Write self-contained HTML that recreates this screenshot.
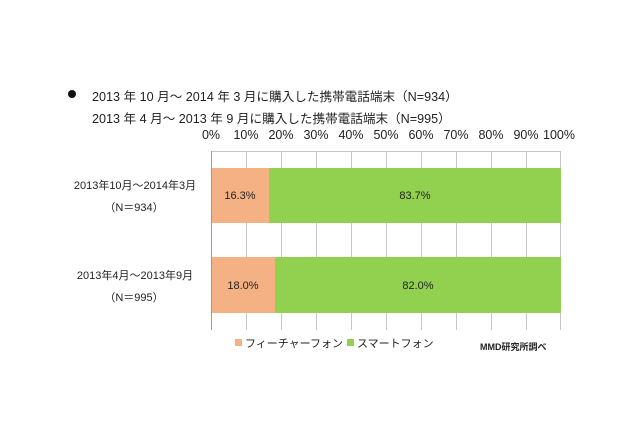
<!DOCTYPE html>
<html><head><meta charset="utf-8"><style>
body{margin:0;width:640px;height:426px;background:#fff;position:relative;font-family:"Liberation Sans","Noto Sans CJK JP",sans-serif;color:#222;overflow:hidden}
.t{position:absolute;white-space:nowrap}
</style></head><body>
<div style="position:absolute;left:68px;top:90px;width:8px;height:8px;border-radius:50%;background:#111"></div>
<div class="t" style="left:92px;top:86px;font-size:12.6px">2013 年 10 月～ 2014 年 3 月に購入した携帯電話端末（N=934）</div>
<div class="t" style="left:92px;top:108px;font-size:12.6px">2013 年 4 月～ 2013 年 9 月に購入した携帯電話端末（N=995）</div>
<svg style="position:absolute;left:0;top:0" width="640" height="426">
<g font-family="Liberation Sans, Noto Sans CJK JP, sans-serif" font-size="12.5" fill="#222" text-anchor="middle">
<text x="211" y="139">0%</text><text x="246" y="139">10%</text><text x="281" y="139">20%</text><text x="316" y="139">30%</text><text x="351" y="139">40%</text><text x="386" y="139">50%</text><text x="421" y="139">60%</text><text x="456" y="139">70%</text><text x="491" y="139">80%</text><text x="526" y="139">90%</text><text x="559" y="139">100%</text>
</g>
<g stroke="#c8c8c8" stroke-width="1">
<line x1="211" y1="151.5" x2="561" y2="151.5"/>
<line x1="246.5" y1="151" x2="246.5" y2="330"/><line x1="281.5" y1="151" x2="281.5" y2="330"/><line x1="316.5" y1="151" x2="316.5" y2="330"/><line x1="351.5" y1="151" x2="351.5" y2="330"/><line x1="386.5" y1="151" x2="386.5" y2="330"/><line x1="421.5" y1="151" x2="421.5" y2="330"/><line x1="456.5" y1="151" x2="456.5" y2="330"/><line x1="491.5" y1="151" x2="491.5" y2="330"/><line x1="526.5" y1="151" x2="526.5" y2="330"/><line x1="560.5" y1="151" x2="560.5" y2="330"/>
</g>
<line x1="211.5" y1="151" x2="211.5" y2="330" stroke="#999"/>
<rect x="212" y="168" width="57" height="55" fill="#F4B183"/>
<rect x="269" y="168" width="292" height="55" fill="#92D050"/>
<rect x="212" y="257" width="63" height="56" fill="#F4B183"/>
<rect x="275" y="257" width="286" height="56" fill="#92D050"/>
<g font-family="Liberation Sans, Noto Sans CJK JP, sans-serif" font-size="11" fill="#222" text-anchor="middle">
<text x="240" y="199">16.3%</text><text x="415" y="199">83.7%</text>
<text x="243" y="289">18.0%</text><text x="418" y="289">82.0%</text>
<text x="135" y="189">2013年10月～2014年3月</text><text x="134" y="211">（N＝934）</text>
<text x="135" y="279">2013年4月～2013年9月</text><text x="134" y="301">（N＝995）</text>
</g>
<rect x="235" y="339" width="7" height="7" fill="#F4B183"/>
<text x="245" y="347" font-family="Liberation Sans, Noto Sans CJK JP, sans-serif" font-size="11" fill="#222">フィーチャーフォン</text>
<rect x="347" y="339" width="7" height="7" fill="#92D050"/>
<text x="357" y="347" font-family="Liberation Sans, Noto Sans CJK JP, sans-serif" font-size="11" fill="#222">スマートフォン</text>
<text x="480" y="350" font-family="Liberation Sans, Noto Sans CJK JP, sans-serif" font-size="9" font-weight="bold" fill="#222">MMD研究所調べ</text>
</svg>
</body></html>
